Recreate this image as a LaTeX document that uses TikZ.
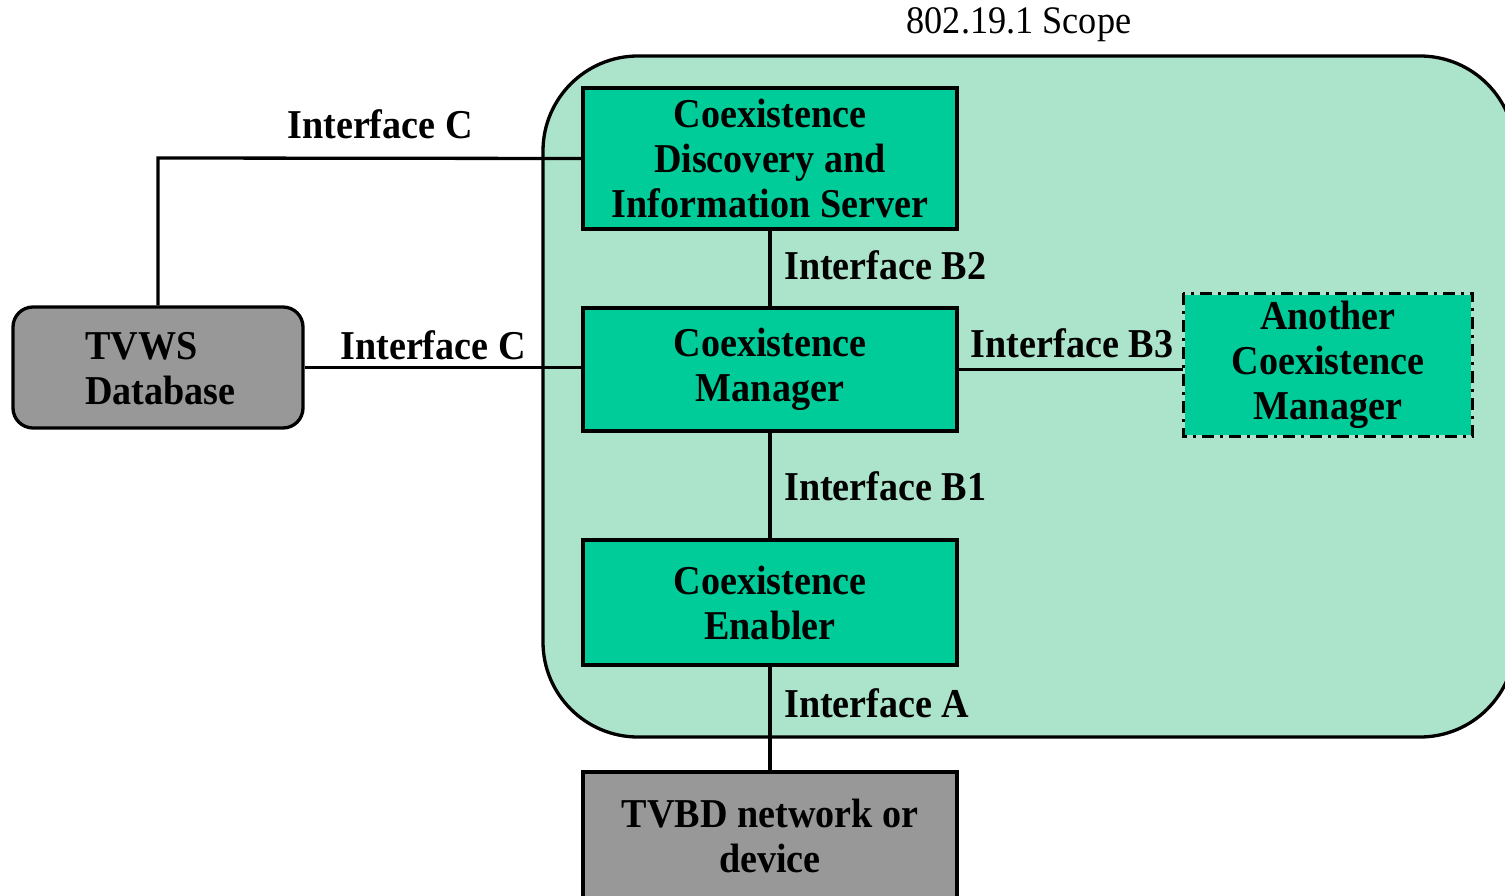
\documentclass[tikz,border=0pt]{standalone}
\usepackage{fontspec}
\setmainfont{Liberation Serif}
\newfontfamily\diagfont[FakeStretch=0.93]{Liberation Serif}
\usetikzlibrary{positioning}
\definecolor{scopefill}{RGB}{172,227,203}
\definecolor{boxfill}{RGB}{0,204,153}
\definecolor{grayfill}{RGB}{152,152,152}
\tikzset{
  lw/.style={line width=3.3pt},
  bigbox/.style={lw, draw=black, fill=boxfill, minimum width=374pt, align=center,
    font=\diagfont\bfseries\fontsize{41}{45}\selectfont, inner sep=0pt},
  graybox/.style={lw, draw=black, fill=grayfill, inner sep=0pt},
  lbl/.style={font=\diagfont\bfseries\fontsize{41}{45}\selectfont, inner sep=0pt},
  conn/.style={lw, draw=black},
}
\begin{document}
\begin{tikzpicture}[x=1pt,y=-1pt]
\useasboundingbox (0,0) rectangle (1505,896);
\clip (0,0) rectangle (1505,896);
% scope region
\draw[lw, fill=scopefill, rounded corners=95pt] (543,56) rectangle (1515,737);
\node[font=\diagfont\fontsize{39}{45}\selectfont, inner sep=0pt] (scopelbl) at (1019,25) {802.19.1 Scope};
% boxes
\node[bigbox, minimum height=141pt] (cdis) at (770,158.5) {Coexistence\\Discovery and\\Information Server};
\node[bigbox, minimum height=123pt] (cm) at (770,369.5) {Coexistence\\Manager};
\node[bigbox, minimum height=125pt] (ce) at (770,602.5) {Coexistence\\Enabler};
\node[bigbox, fill=grayfill, minimum height=128pt] (tvbd) at (770,836) {TVBD network or\\device};
\node[bigbox, draw=none, minimum width=286pt, minimum height=140pt] (acm) at (1328,365) {Another\\Coexistence\\Manager};
\draw[lw, dash pattern=on 12pt off 6pt on 3pt off 6pt] (acm.north west) rectangle (acm.south east);
\node[graybox, rounded corners=20pt, minimum width=290pt, minimum height=121pt] (tvws) at (158,367.5) {};
\node[lbl, anchor=west, align=left] (tvwstext) at (85,369) {TVWS\\Database};
% connectors
\coordinate (cbend) at (158,158);
\draw[conn] (tvws.north) -- (cbend) -- (cdis.west);
\draw[conn] (tvws.east) -- (tvws.east -| cm.west);
\draw[conn] (cdis.south) -- (cm.north);
\draw[conn] (cm.east) -- (cm.east -| acm.west);
\draw[conn] (cm.south) -- (ce.north);
\draw[conn] (ce.south) -- (tvbd.north);
% labels
\node[lbl] (lc1) at (380,124) {Interface C};
\node[lbl] (lc2) at (433,345) {Interface C};
\node[lbl, anchor=west] (lb2) at (784,265) {Interface B2};
\node[lbl] (lb3) at (1072,343) {Interface B3};
\node[lbl, anchor=west] (lb1) at (784,486) {Interface B1};
\node[lbl, anchor=west] (la) at (784,703) {Interface A};
\end{tikzpicture}
\end{document}
